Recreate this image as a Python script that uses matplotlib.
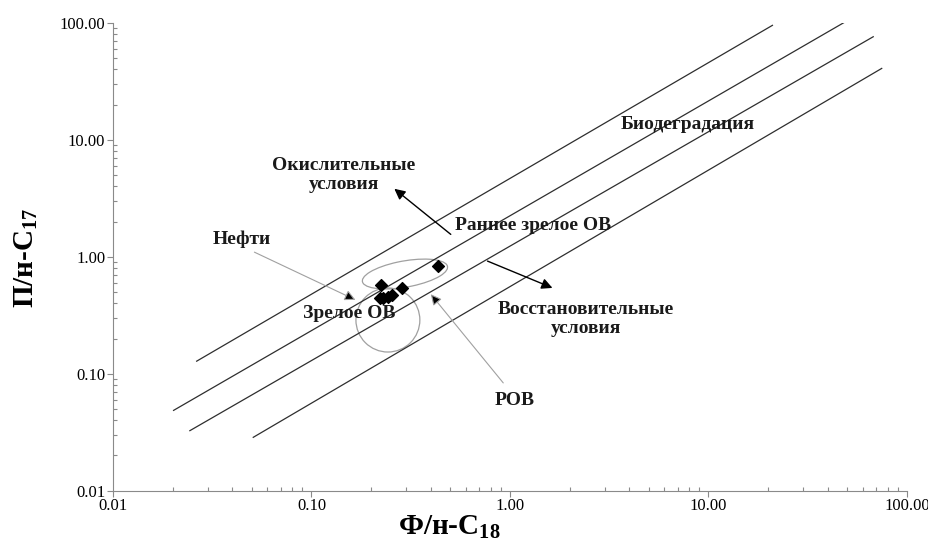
import matplotlib.pyplot as plt
from matplotlib.patches import Ellipse
from matplotlib.ticker import LogLocator, FormatStrFormatter, NullFormatter

plt.rcParams['font.family'] = ['Liberation Serif', 'DejaVu Serif']
plt.rcParams['mathtext.fontset'] = 'custom'
plt.rcParams['mathtext.rm'] = 'Liberation Serif:bold'
plt.rcParams['mathtext.bf'] = 'Liberation Serif:bold'

# sample points (Ф/н-С18, П/н-С17)
ph_c18 = [0.435, 0.223, 0.286, 0.230, 0.244, 0.254, 0.222]
pr_c17 = [0.834, 0.573, 0.537, 0.441, 0.455, 0.471, 0.442]

# boundary lines (start / end in data units)
line_x0 = [0.0264, 0.0202, 0.0244, 0.0509]
line_y0 = [0.128, 0.0486, 0.0326, 0.0286]
line_x1 = [21.0, 48.0, 67.6, 74.6]
line_y1 = [95.0, 100.0, 75.9, 40.7]

# outlined areas, given in log10 units: centre x, centre y, width, height, angle
ell_cx = [-0.529, -0.615]
ell_cy = [-0.148, -0.541]
ell_w = [0.45, 0.322]
ell_h = [0.217, 0.547]
ell_ang = [20, 0]

fig = plt.figure(figsize=(9.29, 5.45), dpi=100)
ax = fig.add_axes([0.1216, 0.0996, 0.8547, 0.8587])
ax.set_xscale('log')
ax.set_yscale('log')
ax.set_xlim(0.01, 100)
ax.set_ylim(0.01, 100)

for x0, y0, x1, y1 in zip(line_x0, line_y0, line_x1, line_y1):
    ax.plot([x0, x1], [y0, y1], color='#2e2e2e', lw=0.9)

# ellipses drawn in log space
log_tr = ax.transLimits + ax.transAxes
for cx, cy, w, h, a in zip(ell_cx, ell_cy, ell_w, ell_h, ell_ang):
    ax.add_patch(Ellipse((cx, cy), w, h, angle=a, transform=log_tr,
                         fill=False, edgecolor='#a0a0a0', lw=0.9))

ax.scatter(ph_c18, pr_c17, marker='D', s=36, color='black', zorder=5)

bold = dict(fontsize=14, fontweight='bold', ha='center', va='center', color='#1a1a1a')

# arrows with text
ax.annotate('', xy=(0.1714, 0.418), xytext=(0.0501, 1.12),
            arrowprops=dict(arrowstyle='-|>', edgecolor='#a0a0a0', facecolor='black',
                            lw=0.8, mutation_scale=16))
ax.annotate('', xy=(0.391, 0.499), xytext=(0.944, 0.080),
            arrowprops=dict(arrowstyle='-|>', edgecolor='#a0a0a0', facecolor='black',
                            lw=0.8, mutation_scale=16))
ax.annotate('', xy=(0.255, 3.94), xytext=(0.516, 1.50),
            arrowprops=dict(arrowstyle='-|>', color='black', lw=1.0, mutation_scale=16))
ax.annotate('', xy=(1.686, 0.530), xytext=(0.748, 0.937),
            arrowprops=dict(arrowstyle='-|>', color='black', lw=1.0, mutation_scale=16))

ax.text(7.88, 13.6, 'Биодеградация', **bold)
ax.text(0.146, 4.99, 'Окислительные\nусловия', linespacing=1.1, **bold)
ax.text(1.306, 1.866, 'Раннее зрелое ОВ', **bold)
ax.text(0.0447, 1.42, 'Нефти', **bold)
ax.text(0.1545, 0.330, 'Зрелое ОВ', **bold)
ax.text(2.414, 0.294, 'Восстановительные\nусловия', linespacing=1.1, **bold)
ax.text(1.06, 0.0596, 'РОВ', **bold)

# axes styling
for s in ['top', 'right']:
    ax.spines[s].set_visible(False)
for s in ['left', 'bottom']:
    ax.spines[s].set_color('#8a8a8a')
    ax.spines[s].set_linewidth(0.8)

for axis in [ax.xaxis, ax.yaxis]:
    axis.set_major_locator(LogLocator(base=10, numticks=10))
    axis.set_major_formatter(FormatStrFormatter('%.2f'))
    axis.set_minor_locator(LogLocator(base=10, subs=range(2, 10), numticks=20))
    axis.set_minor_formatter(NullFormatter())

ax.tick_params(which='major', direction='out', length=4, width=0.8, color='#8a8a8a',
               labelsize=12, pad=1.5)
ax.tick_params(which='minor', direction='in', length=3, width=0.8, color='#8a8a8a')

ax.set_xlabel('Ф/н-С$_{18}$', fontsize=21, fontweight='bold')
ax.xaxis.set_label_coords(0.423, -0.047)
ax.set_ylabel('П/н-С$_{17}$', fontsize=21, fontweight='bold')
ax.yaxis.set_label_coords(-0.092, 0.497)

fig.savefig('out.png', dpi=100)
